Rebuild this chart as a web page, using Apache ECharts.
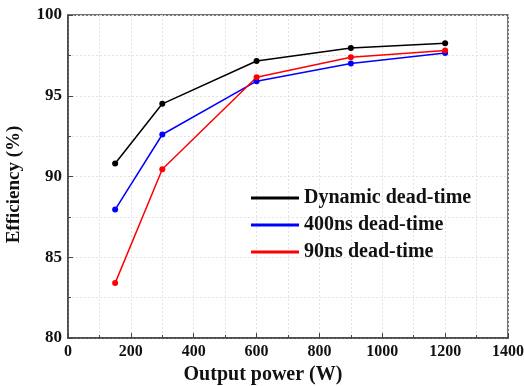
<!DOCTYPE html>
<html><head><meta charset="utf-8">
<script src="https://cdn.jsdelivr.net/npm/echarts@6/dist/echarts.min.js"></script>
<style>html,body{margin:0;padding:0;background:#fff}#c{width:524px;height:386px}</style>
</head><body><div id="c"></div>
<script>
const power = [150, 300, 600, 900, 1200];
const dynamicDT = [90.8, 94.5, 97.15, 97.95, 98.25];
const ns400DT = [87.95, 92.6, 95.9, 97.0, 97.65];
const ns90DT = [83.4, 90.45, 96.15, 97.38, 97.8];
const seriesNames = ['Dynamic dead-time', '400ns dead-time', '90ns dead-time'];
const colors = ['#000000', '#0000ff', '#ff0000'];

const FONT = '"Liberation Serif", "Times New Roman", serif';
const chart = echarts.init(document.getElementById('c'));
function mk(name, vals, color) {
  return {
    name: name, type: 'line', data: power.map((p, i) => [p, vals[i]]),
    symbol: 'circle', symbolSize: 6, color: color,
    lineStyle: { width: 1.5, color: color }, itemStyle: { color: color }
  };
}
const gridLine = { show: true, lineStyle: { color: '#e2e2e2', type: [2, 2], width: 1 } };
chart.setOption({
  animation: false,
  grid: { left: 68, right: 16, top: 15, bottom: 48, show: true, borderColor: '#444', borderWidth: 1.5,
    outerBoundsMode: 'none', containLabel: false },
  legend: {
    left: 246, top: 183, orient: 'vertical', itemGap: 7, itemWidth: 48, itemHeight: 3,
    icon: 'rect',
    data: seriesNames,
    textStyle: { fontFamily: FONT, fontWeight: 'bold', fontSize: 20, color: '#111' }
  },
  xAxis: {
    type: 'value', min: 0, max: 1400, interval: 200,
    name: 'Output power (W)', nameLocation: 'middle', nameGap: 26,
    nameTextStyle: { fontFamily: FONT, fontWeight: 'bold', fontSize: 20, color: '#111', padding: [0, 50, 0, 0] },
    axisLine: { show: true, lineStyle: { color: '#444', width: 1.5 } },
    axisTick: { show: true, inside: true, length: 5, lineStyle: { color: '#444' } },
    minorTick: { show: true, splitNumber: 2, length: 3, lineStyle: { color: '#444' } },
    splitLine: gridLine,
    minorSplitLine: gridLine,
    axisLabel: { fontFamily: FONT, fontWeight: 'bold', fontSize: 16, color: '#111', margin: 6,
      formatter: v => String(v) }
  },
  yAxis: {
    type: 'value', min: 80, max: 100, interval: 5,
    name: 'Efficiency (%)', nameLocation: 'middle', nameGap: 44,
    nameTextStyle: { fontFamily: FONT, fontWeight: 'bold', fontSize: 19, color: '#111', padding: [0, 16, 0, 0] },
    axisLine: { show: true, lineStyle: { color: '#444', width: 1.5 } },
    axisTick: { show: true, inside: true, length: 5, lineStyle: { color: '#444' } },
    minorTick: { show: true, splitNumber: 2, length: 3, lineStyle: { color: '#444' } },
    splitLine: gridLine,
    minorSplitLine: gridLine,
    axisLabel: { fontFamily: FONT, fontWeight: 'bold', fontSize: 17, color: '#111', margin: 6,
      formatter: v => String(v) }
  },
  series: [
    mk(seriesNames[0], dynamicDT, colors[0]),
    mk(seriesNames[1], ns400DT, colors[1]),
    mk(seriesNames[2], ns90DT, colors[2])
  ]
});
</script></body></html>
